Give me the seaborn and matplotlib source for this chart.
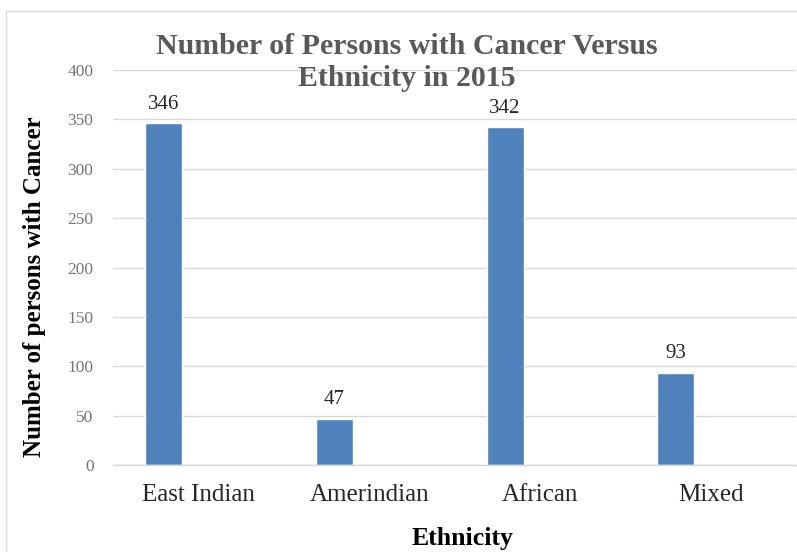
import matplotlib
matplotlib.use("Agg")
import matplotlib.pyplot as plt
import seaborn as sns
import pandas as pd
from matplotlib.patches import Rectangle

ethnicities = ["East Indian", "Amerindian", "African", "Mixed"]
persons = [346, 47, 342, 93]
yticks = [0, 50, 100, 150, 200, 250, 300, 350, 400]

df = pd.DataFrame({"Ethnicity": ethnicities, "Persons": persons})

sns.set_theme(style="white")
plt.rcParams["font.family"] = ["Liberation Serif", "DejaVu Serif"]

fig = plt.figure(figsize=(7.97, 5.52), dpi=100)
ax = fig.add_axes([113 / 797, 0.1576, 683 / 797, 0.7155])

blue = "#4F81BD"
sns.barplot(data=df, x="Ethnicity", y="Persons", order=ethnicities,
            color=blue, width=0.217, errorbar=None, saturation=1, ax=ax)

# Excel-style clustered layout: bar sits in the left half of its category slot
bar_offset = -0.204
for p in ax.patches:
    p.set_x(p.get_x() + bar_offset)

ax.set_ylim(0, 400)
ax.set_xlim(-0.5, 3.5)
ax.set_yticks(yticks)
ax.set_yticklabels([str(t) for t in yticks])
ax.yaxis.grid(True, color="#D9D9D9", linewidth=1)
ax.set_axisbelow(True)
for s in ["top", "right", "left"]:
    ax.spines[s].set_visible(False)
ax.spines["bottom"].set_color("#D9D9D9")
ax.spines["bottom"].set_linewidth(1)
ax.tick_params(axis="y", length=0, pad=14, labelsize=12.5, labelcolor="#757575")
ax.tick_params(axis="x", length=0, pad=14, labelsize=18, labelcolor="#262626")
ax.set_xlabel("")
ax.set_ylabel("")

for p in ax.patches:
    h = p.get_height()
    if h and h == h and h > 0:
        ax.annotate(f"{int(round(h))}", (p.get_x() + p.get_width() / 2, h),
                    xytext=(0, 7), textcoords="offset points",
                    ha="center", va="bottom", fontsize=15, color="#262626")

title_color = "#595959"
fig.text(0.510, 1 - 47 / 552, "Number of Persons with Cancer Versus",
         ha="center", va="center", fontsize=21.5, fontweight="bold", color=title_color)
fig.text(0.510, 1 - 79 / 552, "Ethnicity in 2015",
         ha="center", va="center", fontsize=21.5, fontweight="bold", color=title_color)
fig.text(35 / 797, 1 - 287 / 552, "Number of persons with Cancer", rotation=90,
         ha="center", va="center", fontsize=18, fontweight="bold", color="black")
fig.text(462 / 797, 1 - 538 / 552, "Ethnicity", ha="center", va="center",
         fontsize=18.5, fontweight="bold", color="black")

fig.patches.append(Rectangle((0.008, -0.01), 1.1, 0.99, transform=fig.transFigure,
                             fill=False, edgecolor="#D9D9D9", linewidth=1))

fig.savefig("out.png", dpi=100)
